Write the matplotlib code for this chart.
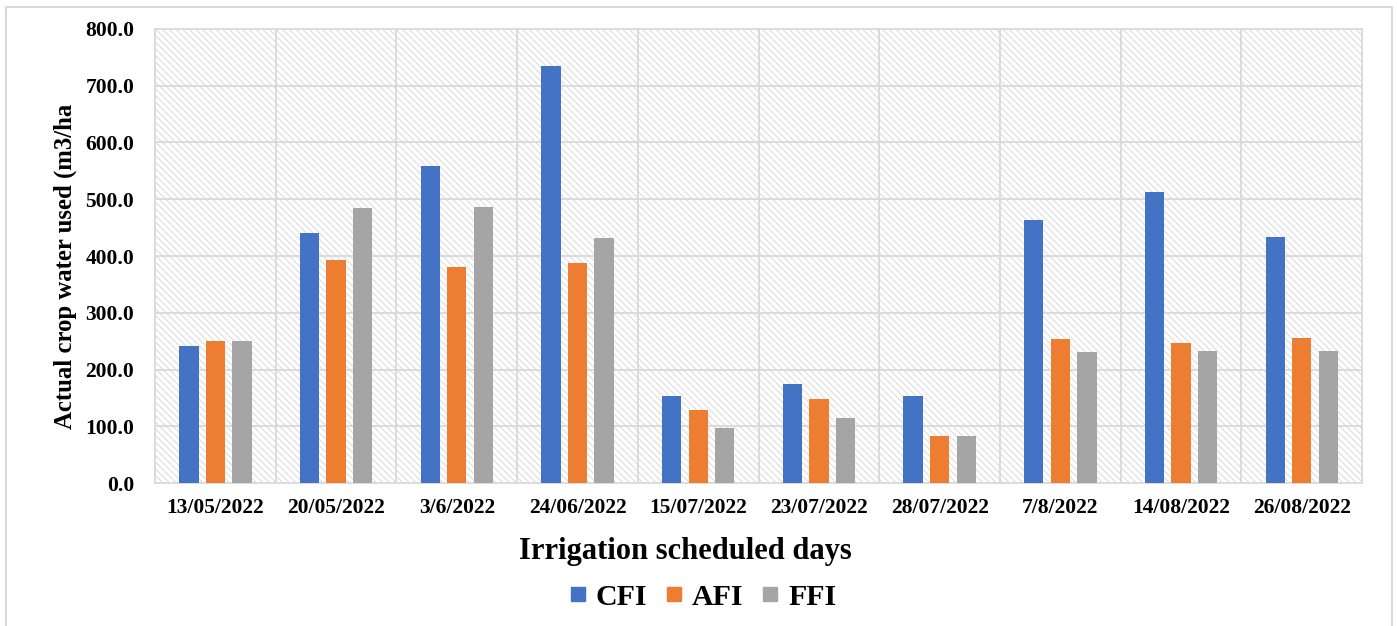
import matplotlib.pyplot as plt
import numpy as np
from matplotlib.patches import Rectangle
from matplotlib.lines import Line2D

# Irrigation dates and water used per treatment (m3/ha)
dates = ["13/05/2022", "20/05/2022", "3/6/2022", "24/06/2022", "15/07/2022",
         "23/07/2022", "28/07/2022", "7/8/2022", "14/08/2022", "26/08/2022"]
cfi = [242, 441, 559, 734, 154, 175, 154, 463, 512, 433]
afi = [251, 393, 381, 387, 129, 148, 83, 253, 246, 255]
ffi = [251, 485, 487, 431, 97, 115, 83, 230, 232, 232]

series = [("CFI", cfi, "#4472c4"), ("AFI", afi, "#ed7d31"), ("FFI", ffi, "#a5a5a5")]
grid_col = "#d9d9d9"

plt.rcParams["font.family"] = ["Liberation Serif", "DejaVu Serif"]
plt.rcParams["font.weight"] = "bold"
plt.rcParams["hatch.linewidth"] = 0.7

fig = plt.figure(figsize=(13.97, 6.26), dpi=100)
ax = fig.add_axes([0.111, 0.2284, 0.864, 0.7253])

# hatched plot background
bg = Rectangle((0, 0), 1, 1, transform=ax.transAxes, facecolor="white",
               edgecolor=grid_col, linewidth=0, hatch="\\\\\\\\\\", zorder=0)
ax.add_patch(bg)
ax.patch.set_alpha(0)

x = np.arange(len(dates))
width = 0.16
offsets = [-0.22, 0.0, 0.22]
for (name, vals, col), off in zip(series, offsets):
    ax.bar(x + off, vals, width, color=col, label=name, zorder=3)

ax.set_xlim(-0.5, len(dates) - 0.5)
ax.set_ylim(0, 800)
ax.set_yticks(np.arange(0, 801, 100))
ax.set_yticklabels([f"{v:.1f}" for v in np.arange(0, 801, 100)])
ax.set_xticks(x)
ax.set_xticklabels(dates)

# gridlines: horizontal at ticks, vertical between categories
for v in np.arange(100, 800, 100):
    ax.axhline(v, color=grid_col, lw=1.3, zorder=1)
for b in np.arange(0.5, len(dates) - 0.5, 1):
    ax.axvline(b, color=grid_col, lw=1.3, zorder=1)

for s in ax.spines.values():
    s.set_color(grid_col)
    s.set_linewidth(1.3)

ax.tick_params(axis="both", length=0, labelsize=15.5)
ax.tick_params(axis="y", pad=15)
ax.tick_params(axis="x", pad=11)

ax.set_ylabel("Actual crop water used (m3/ha", fontsize=17.8, fontweight="bold")
ax.yaxis.set_label_coords(-0.0646, 0.478)
ax.set_xlabel("Irrigation scheduled days", fontsize=22, fontweight="bold")
ax.xaxis.set_label_coords(0.439, -0.118)

handles = [Line2D([0], [0], marker="s", linestyle="none", markersize=10.5,
                  markerfacecolor=c, markeredgecolor=c, label=n) for n, _, c in series]
fig.legend(handles=handles, loc="center", bbox_to_anchor=(0.503, 0.046), ncol=3,
           frameon=False, prop={"size": 21.5, "weight": "bold"},
           handlelength=0.6, handletextpad=0.3, columnspacing=0.6)

# outer chart frame
fig.add_artist(Line2D([0.0043, 0.0043, 0.9964, 0.9964], [0.0, 0.989, 0.989, 0.0],
                      transform=fig.transFigure, color=grid_col, lw=1.5))

fig.savefig("out.png", dpi=100)
